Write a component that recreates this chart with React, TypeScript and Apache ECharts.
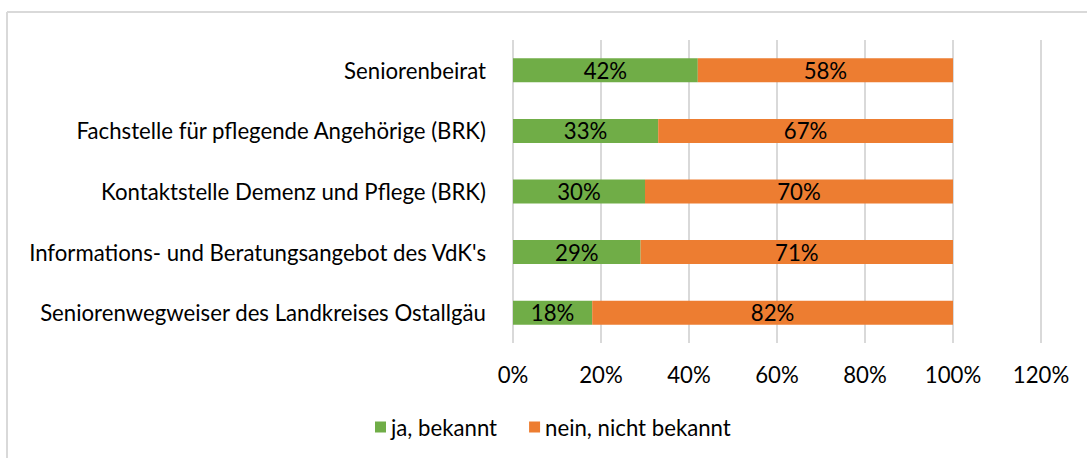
import React, { useEffect, useRef } from "react";
import * as echarts from "echarts";

const categories = [
  "Seniorenbeirat",
  "Fachstelle für pflegende Angehörige (BRK)",
  "Kontaktstelle Demenz und Pflege (BRK)",
  "Informations- und Beratungsangebot des VdK's",
  "Seniorenwegweiser des Landkreises Ostallgäu",
];
const jaBekannt = [42, 33, 30, 29, 18];
const neinNichtBekannt = [58, 67, 70, 71, 82];
const seriesNames = ["ja, bekannt", "nein, nicht bekannt"];
const xTicks = { min: 0, max: 120, interval: 20 };

const FONT = "Lato";
const FS = 22.2;
const TXT = "#000";

export default function App() {
  const ref = useRef<HTMLDivElement>(null);
  useEffect(() => {
    if (!ref.current) return;
    const chart = echarts.init(ref.current, undefined, { renderer: "svg" });
    chart.setOption({
      animation: false,
      backgroundColor: "#ffffff",
      textStyle: { fontFamily: FONT },
      grid: { left: 513, right: 46, top: 40, bottom: 115, containLabel: false },
      graphic: [
        { type: "line", shape: { x1: 7, y1: 12, x2: 1087, y2: 12 }, style: { stroke: "#d9d9d9", lineWidth: 2 } },
        { type: "line", shape: { x1: 7, y1: 12, x2: 7, y2: 458 }, style: { stroke: "#d9d9d9", lineWidth: 2 } },
      ],
      legend: {
        left: 370,
        top: 411,
        itemWidth: 11,
        itemHeight: 11,
        itemGap: 32,
        icon: "rect",
        textStyle: { fontFamily: FONT, fontSize: FS, color: TXT },
        data: seriesNames,
      },
      xAxis: {
        type: "value",
        min: xTicks.min,
        max: xTicks.max,
        interval: xTicks.interval,
        axisLine: { show: false },
        axisTick: { show: false },
        splitLine: { show: true, lineStyle: { color: "#d9d9d9", width: 2 } },
        axisLabel: {
          formatter: (v: number) => `${v}%`,
          fontFamily: FONT,
          fontSize: FS,
          color: TXT,
          margin: 20,
        },
      },
      yAxis: {
        type: "category",
        inverse: true,
        data: categories,
        axisLine: { show: false },
        axisTick: { show: false },
        axisLabel: { fontFamily: FONT, fontSize: FS, color: TXT, margin: 27 },
      },
      series: [
        {
          name: seriesNames[0],
          type: "bar",
          stack: "total",
          barWidth: 24,
          data: jaBekannt,
          itemStyle: { color: "#70AD47" },
          label: {
            show: true,
            position: "inside",
            formatter: (p: any) => `${p.value}%`,
            fontFamily: FONT,
            fontSize: FS,
            color: TXT,
          },
        },
        {
          name: seriesNames[1],
          type: "bar",
          stack: "total",
          barWidth: 24,
          data: neinNichtBekannt,
          itemStyle: { color: "#ED7D31" },
          label: {
            show: true,
            position: "inside",
            formatter: (p: any) => `${p.value}%`,
            fontFamily: FONT,
            fontSize: FS,
            color: TXT,
          },
        },
      ],
    });
    return () => chart.dispose();
  }, []);
  return (
    <div
      ref={ref}
      style={{ position: "absolute", left: 0, top: 0, width: 1087, height: 458 }}
    />
  );
}
